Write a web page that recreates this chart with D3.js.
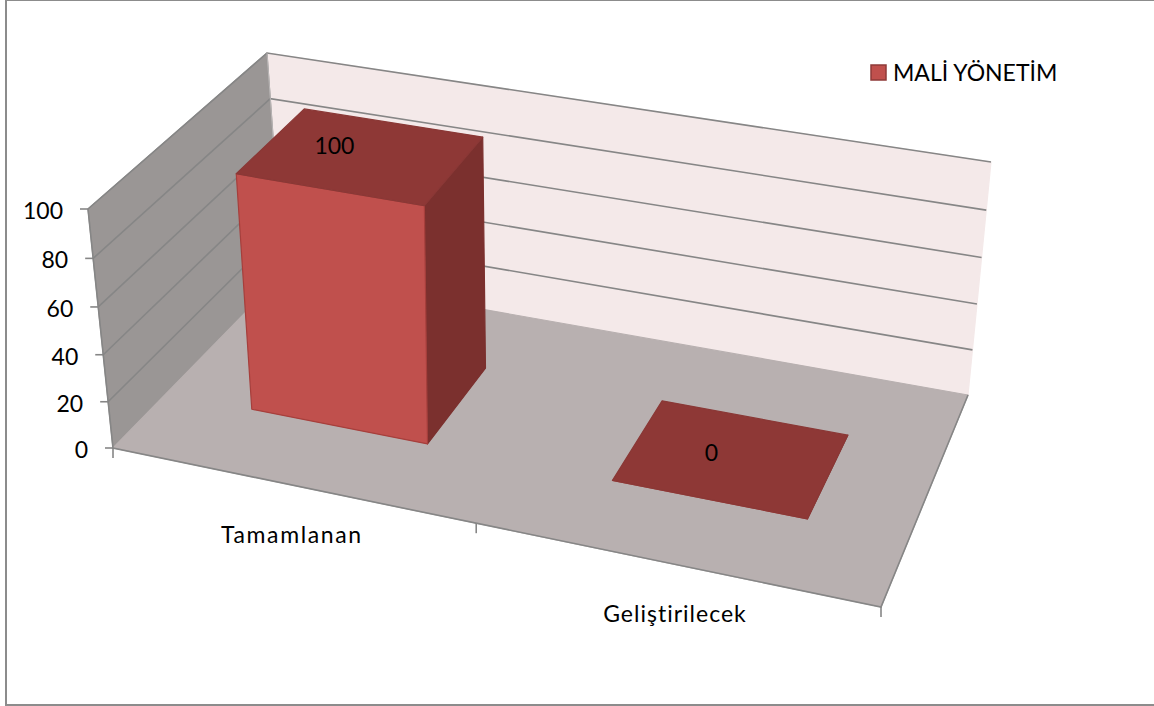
<!DOCTYPE html>
<meta charset="utf-8">
<style>
    html, body {
        margin: 0;
        background: #fff;
    }

    svg {
        display: block;
    }

    text {
        font-family: Lato, sans-serif;
        font-size: 23px;
        fill: #000;
    }

    .grade {
        fill: none;
        stroke: #868686;
        stroke-width: 1.6px;
    }
</style>
<svg width="1154" height="706"></svg>
<script src="https://cdn.jsdelivr.net/npm/d3@7"></script>
<script>
    var categorias = ["Tamamlanan", "Geliştirilecek"];
    var valores = [100, 0];
    var serie = "MALİ YÖNETİM";
    var marcas = [0, 20, 40, 60, 80, 100];

    var svg = d3.select("svg");

    // cantos da caixa 3D na tela: frente-esq, frente-dir, fundo-dir, fundo-esq
    var piso = [[113, 448], [881, 607], [968, 395], [283, 274]];
    var teto = [[88, 209], [920, 357], [991, 162], [267, 53]];

    // quadrado unitario -> quadrilatero (homografia)
    function homografia(q) {
        var sx = q[0][0] - q[1][0] + q[2][0] - q[3][0],
            sy = q[0][1] - q[1][1] + q[2][1] - q[3][1],
            dx1 = q[1][0] - q[2][0], dx2 = q[3][0] - q[2][0],
            dy1 = q[1][1] - q[2][1], dy2 = q[3][1] - q[2][1],
            det = dx1 * dy2 - dx2 * dy1,
            g = (sx * dy2 - dx2 * sy) / det,
            h = (dx1 * sy - sx * dy1) / det;
        return function (u, w) {
            var n = g * u + h * w + 1;
            return [
                ((q[1][0] - q[0][0] + g * q[1][0]) * u + (q[3][0] - q[0][0] + h * q[3][0]) * w + q[0][0]) / n,
                ((q[1][1] - q[0][1] + g * q[1][1]) * u + (q[3][1] - q[0][1] + h * q[3][1]) * w + q[0][1]) / n
            ];
        };
    }

    var hPiso = homografia(piso), hTeto = homografia(teto);

    var x = d3.scaleBand().domain(categorias).range([0, 1]).paddingInner(0.5).paddingOuter(0.25);
    var y = d3.scaleLinear().domain([0, 100]).range([0, 1]);
    var z = d3.scaleLinear().domain([0, 1]).range([0.292, 0.698]);

    function proj(u, v, w) {
        var a = hPiso(u, w), b = hTeto(u, w),
            t = y(v), k = 0.96;
        t = k * t / (1 + (k - 1) * t);
        return [a[0] + (b[0] - a[0]) * t, a[1] + (b[1] - a[1]) * t];
    }

    var linha = d3.line();

    function face(pontos, cor, borda) {
        svg.append("path")
            .attr("d", linha(pontos) + "Z")
            .attr("fill", cor)
            .attr("stroke", borda || cor)
            .attr("stroke-width", 1.2)
            .attr("stroke-linejoin", "round");
    }

    // moldura (a borda direita fica fora da imagem)
    svg.append("rect")
        .attr("x", 6).attr("y", 0)
        .attr("width", 1152).attr("height", 705)
        .attr("fill", "#fff")
        .attr("stroke", "#8c8c8c")
        .attr("stroke-width", 2);

    // paredes e piso
    face([proj(0, 0, 1), proj(1, 0, 1), proj(1, 100, 1), proj(0, 100, 1)], "#f4e9e9");
    face([proj(0, 0, 0), proj(0, 0, 1), proj(0, 100, 1), proj(0, 100, 0)], "#9a9695");
    face([proj(0, 0, 0), proj(1, 0, 0), proj(1, 0, 1), proj(0, 0, 1)], "#b8b0b0");

    // grades
    marcas.forEach(function (m) {
        if (m > 0) {
            svg.append("path").attr("class", "grade")
                .attr("d", linha([proj(0, m, 0), proj(0, m, 1), proj(1, m, 1)]));
        }
    });
    svg.append("path").attr("class", "grade")
        .attr("d", linha([proj(0, 100, 1), proj(0, 0, 1)]))
        .style("stroke", "#b9b6b6").style("stroke-width", "1px");
    svg.append("path").attr("class", "grade")
        .attr("d", linha([proj(0, 100, 0), proj(0, 0, 0), proj(1, 0, 0), proj(1, 0, 1)]));

    // eixo de valores
    marcas.forEach(function (m) {
        var p = proj(0, m, 0);
        svg.append("path").attr("class", "grade")
            .attr("d", linha([[p[0] - 8, p[1]], p]));
        svg.append("text")
            .attr("x", p[0] - 25).attr("y", p[1] + 10)
            .attr("text-anchor", "end")
            .text(m);
    });

    // eixo de categorias
    [0, 0.5, 1].forEach(function (u) {
        var p = proj(u, 0, 0);
        svg.append("path").attr("class", "grade")
            .attr("d", linha([p, [p[0], p[1] + 10]]));
    });
    categorias.forEach(function (c, i) {
        var p = proj(x(c) + x.bandwidth() / 2, 0, 0);
        svg.append("text")
            .attr("x", p[0] + 2).attr("y", p[1] + 58)
            .attr("text-anchor", "middle")
            .style("letter-spacing", (i == 0 ? 1.6 : 1.0) + "px")
            .text(c);
    });

    // barras
    categorias.forEach(function (c, i) {
        var u0 = x(c), u1 = x(c) + x.bandwidth(), v = valores[i],
            w0 = z(0), w1 = z(1);
        face([proj(u1, 0, w0), proj(u1, 0, w1), proj(u1, v, w1), proj(u1, v, w0)], "#7b302e", "#7b302e");
        face([proj(u0, 0, w0), proj(u1, 0, w0), proj(u1, v, w0), proj(u0, v, w0)], "#c0504d", "#a63f3c");
        face([proj(u0, v, w0), proj(u1, v, w0), proj(u1, v, w1), proj(u0, v, w1)], "#8e3836", "#8a3836");
    });

    // rotulos de dados
    categorias.forEach(function (c, i) {
        var p = proj(x(c) + x.bandwidth() / 2, valores[i], 0.5);
        svg.append("text")
            .attr("x", p[0] + (valores[i] > 0 ? -28 : -21))
            .attr("y", p[1] + (valores[i] > 0 ? 0 : 5))
            .attr("text-anchor", "middle")
            .text(valores[i]);
    });

    // legenda
    svg.append("rect")
        .attr("x", 871).attr("y", 65)
        .attr("width", 15).attr("height", 15)
        .attr("fill", "#c0504d")
        .attr("stroke", "#8e3a38")
        .attr("stroke-width", 1.5);
    svg.append("text")
        .attr("x", 893).attr("y", 81)
        .text(serie);
</script>
